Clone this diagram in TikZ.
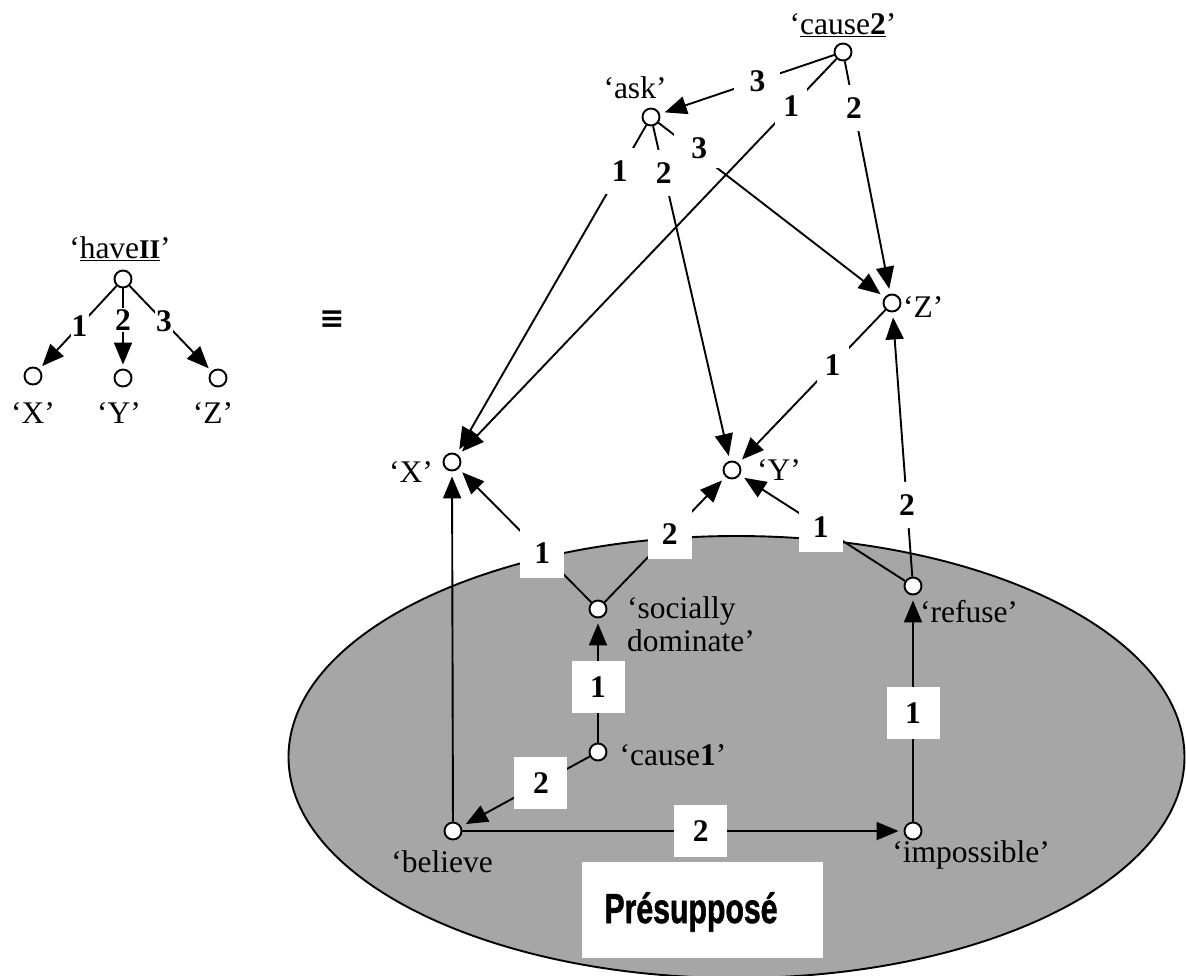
\documentclass[tikz,border=0pt]{standalone}
\usepackage{fontspec}
\setmainfont{Liberation Serif}
\newfontfamily\presfont[BoldFeatures={FakeBold=1.5}]{Liberation Sans}
\newfontfamily\symfont{DejaVu Sans}
\usetikzlibrary{arrows.meta}
\definecolor{ellgray}{RGB}{166,166,166}
\newcommand{\basesize}{\fontsize{31.5}{33}\selectfont}
\tikzset{
  v/.style={circle, draw, fill=white, line width=1.9pt, minimum size=17pt, inner sep=0pt},
  e/.style={line width=1.9pt},
  a/.style={e, -{Triangle[length=22pt,width=18pt]}, shorten >=5pt},
  num/.style={fill=white, font=\basesize\bfseries, inner sep=0pt},
  lw/.style={num, minimum width=32pt, minimum height=46pt},
  lww/.style={num, minimum width=46pt, minimum height=30pt},
  lbu/.style={num, minimum width=44pt, minimum height=50pt},
  lb/.style={num, minimum width=53pt, minimum height=52pt},
  ls/.style={num, minimum width=18pt, minimum height=24pt},
  t/.style={inner sep=0pt}
}
\begin{document}
\begin{tikzpicture}[x=1pt, y=-1pt, font=\basesize]
\useasboundingbox (0,0) rectangle (1186,975);

% presupposition ellipse
\draw[fill=ellgray, line width=1.9pt] (736.5,757) ellipse [x radius=448, y radius=221];
\node[fill=white, minimum width=241pt, minimum height=96pt, inner sep=0pt] (pbox) at (702.5,910) {};
\node[t, anchor=base] (pres) at (691,923) {\presfont\bfseries\fontsize{42}{44}\selectfont\scalebox{0.72}[1]{Présupposé}};

% left tree
\node[v] (h) at (123,279) {};
\node[v] (hx) at (33,376) {};
\node[v] (hy) at (123,378) {};
\node[v] (hz) at (218,378) {};
\node[t] (hl) at (120,249) {‘\underline{have\textbf{\fontsize{27}{30}\selectfont II}}’};
\node[t] (hxl) at (33,413) {‘X’};
\node[t] (hyl) at (119,413) {‘Y’};
\node[t] (hzl) at (213,413) {‘Z’};
\draw[a, shorten >=4pt] (h) -- node[ls, pos=.48]{1} (hx);
\draw[a, shorten >=4pt] (h) -- node[ls, pos=.4]{2} (hy);
\draw[a, shorten >=4pt] (h) -- node[ls, pos=.42]{3} (hz);

% equivalence sign
\node[t] (eq) at (332,320) {\symfont\bfseries\fontsize{30}{32}\selectfont ≡};

% right graph nodes
\node[v] (c2) at (843,52) {};
\node[v] (ask) at (651,117) {};
\node[v] (Z) at (892,303) {};
\node[v] (X) at (452,462) {};
\node[v] (Y) at (732,470) {};
\node[v] (sd) at (598,609) {};
\node[v] (rf) at (913,586) {};
\node[v] (c1) at (598,752) {};
\node[v] (bl) at (453,831) {};
\node[v] (im) at (913,831) {};

% node texts
\node[t] (c2l) at (843,25) {‘\underline{cause\textbf{2}}’};
\node[t] (askl) at (635,88) {‘ask’};
\node[t, anchor=west] (Zl) at (903,307) {‘Z’};
\node[t] (Xl) at (411,472) {‘X’};
\node[t, anchor=west] (Yl) at (757,470) {‘Y’};
\node[t, anchor=north west, align=left] (sdl) at (627,596) {‘socially\\dominate’};
\node[t] (rfl) at (969,612) {‘refuse’};
\node[t] (c1l) at (673,755) {‘cause\textbf{1}’};
\node[t] (bll) at (442,862) {‘believe};
\node[t] (iml) at (971,855) {‘impossible’};

% edges
\draw[a] (c2) -- node[lww, pos=.44]{3} (ask);
\draw[a] (c2) -- node[lw, pos=.12]{1} (X);
\draw[a] (c2) -- node[lw, pos=.2]{2} (Z);
\draw[a] (ask) -- node[lw, pos=.14]{1} (X);
\draw[a] (ask) -- node[lw, pos=.14]{2} (Y);
\draw[a] (ask) -- node[lww, pos=.18, yshift=6pt, minimum width=50pt, minimum height=40pt]{3} (Z);
\draw[a] (Z) -- node[lw, pos=.36]{1} (Y);
\draw[a] (rf) -- node[lw, pos=.27]{2} (Z);
\draw[a] (sd) -- node[lbu, pos=.37]{1} (X);
\draw[a] (sd) -- node[lbu, pos=.54]{2} (Y);
\draw[a] (rf) -- node[lbu, pos=.51]{1} (Y);
\draw[a] (bl) -- (X);
\draw[a] (c1) -- node[lb, pos=.45]{1} (sd);
\draw[a] (c1) -- node[lb, pos=.38]{2} (bl);
\draw[a] (bl) -- node[lb, pos=.54]{2} (im);
\draw[a] (im) -- node[lb, pos=.48]{1} (rf);
\end{tikzpicture}
\end{document}
